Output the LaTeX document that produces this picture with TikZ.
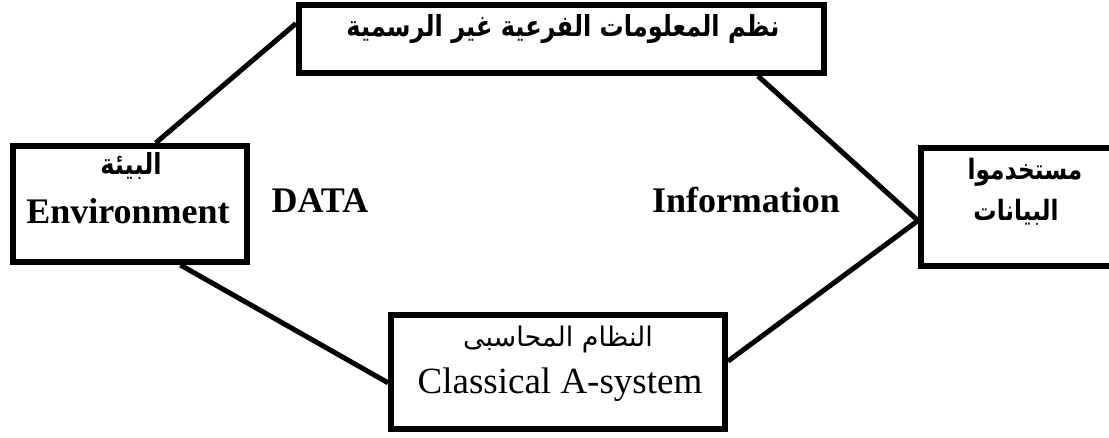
\documentclass[tikz,border=0pt]{standalone}
\usepackage{fontspec}
\setmainfont{Liberation Serif}
\newfontfamily\arabicfont[Script=Arabic]{DejaVu Sans}
\newfontfamily\arabicbold[Script=Arabic,FakeStretch=0.83]{DejaVu Sans Bold}
\TeXXeTstate=1
\usetikzlibrary{calc}
\begin{document}
\begin{tikzpicture}[x=1pt,y=-1pt,
  box/.style={draw,line width=6pt,rectangle,inner sep=0pt},
  conn/.style={line width=5pt},
  lbl/.style={inner sep=0pt,anchor=base},
  artxt/.style={lbl,font=\arabicbold\fontsize{29}{32}\selectfont},
  arside/.style={lbl,font=\arabicbold\fontsize{28}{32}\selectfont},
  arreg/.style={lbl,font=\arabicfont\fontsize{27}{30}\selectfont},
  entxt/.style={lbl,font=\bfseries\fontsize{36}{40}\selectfont},
  enreg/.style={lbl,font=\fontsize{37}{40}\selectfont}]
\useasboundingbox (0,0) rectangle (1109,438);
\fill[white] (0,0) rectangle (1109,438);
% boxes
\node[box,minimum width=525pt,minimum height=68pt] (top) at (561.5,39) {};
\node[box,minimum width=234pt,minimum height=116pt] (env) at (130,204) {};
\node[box,minimum width=194pt,minimum height=118pt] (users) at (1018,207) {};
\node[box,minimum width=334pt,minimum height=114pt] (acc) at (558,372) {};
% texts
\node[artxt] (toptxt) at (563,37) {\beginR نظم المعلومات الفرعية غير الرسمية\endR};
\node[artxt] (envar) at (131,175) {\beginR البيئة\endR};
\node[entxt] (enven) at (128,224) {Environment};
\node[arside] (us1) at (1025,180) {\beginR مستخدموا\endR};
\node[arside] (us2) at (1016,221) {\beginR البيانات\endR};
\node[arreg] (accar) at (558,347) {\beginR النظام المحاسبى\endR};
\node[enreg] (accen) at (560,393) {Classical A-system};
\node[entxt] (data) at (320,213) {DATA};
\node[entxt] (info) at (746,213) {Information};
% connectors
\draw[conn] ($(env.north west)!0.607!(env.north east)$) -- ($(top.north west)!0.29!(top.south west)$);
\draw[conn] ($(top.south west)!0.87!(top.south east)$) -- ($(users.north west)!0.61!(users.south west)$);
\draw[conn] ($(env.south west)!0.71!(env.south east)$) -- ($(acc.north west)!0.59!(acc.south west)$);
\draw[conn] ($(acc.north east)!0.41!(acc.south east)$) -- ($(users.north west)!0.61!(users.south west)$);
\end{tikzpicture}
\end{document}
